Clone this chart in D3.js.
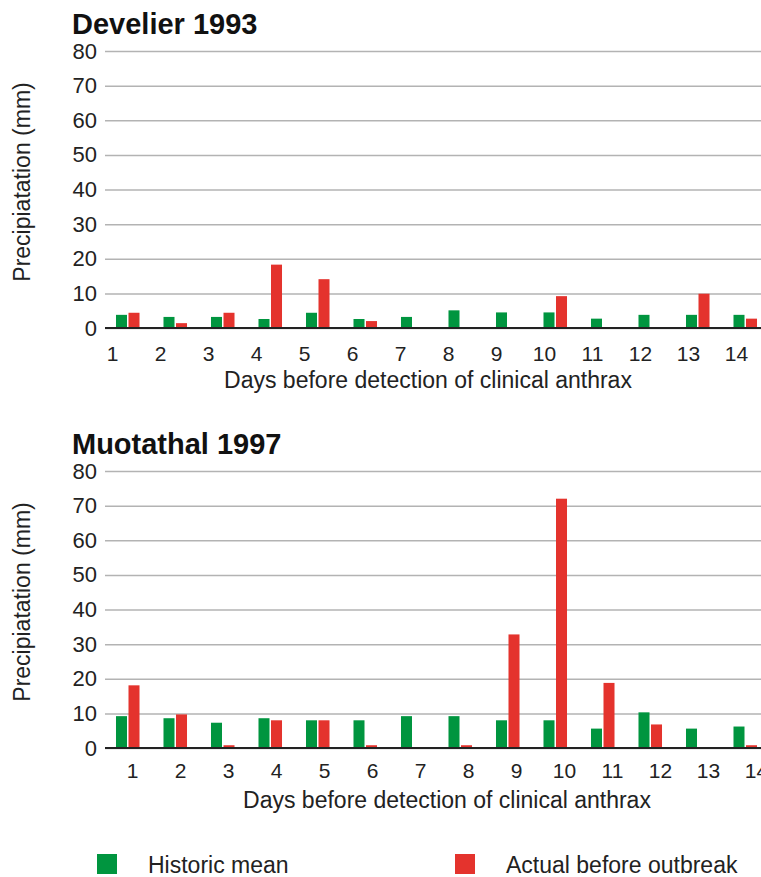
<!DOCTYPE html>
<html>
<head>
<meta charset="utf-8">
<script src="https://cdn.jsdelivr.net/npm/d3@7"></script>
<style>
  body { margin: 0; background: #fff; }
  svg { display: block; font-family: "Liberation Sans", Arial, sans-serif; }
</style>
</head>
<body>
<svg id="chart" width="761" height="877"></svg>
<script>
var days = [1, 2, 3, 4, 5, 6, 7, 8, 9, 10, 11, 12, 13, 14];
var seriesNames = ["Historic mean", "Actual before outbreak"];
var seriesColors = ["#00953f", "#e4332d"];
var yTicks = [0, 10, 20, 30, 40, 50, 60, 70, 80];

// Develier 1993
var develierHistoric = [3.8, 3.2, 3.2, 2.6, 4.4, 2.6, 3.2, 5.1, 4.5, 4.5, 2.7, 3.8, 3.8, 3.8];
var develierActual   = [4.4, 1.4, 4.4, 18.3, 14.1, 2.0, 0, 0, 0, 9.2, 0, 0, 9.9, 2.7];

// Muotathal 1997
var muotathalHistoric = [9.2, 8.6, 7.3, 8.6, 8.0, 8.0, 9.2, 9.2, 8.0, 8.0, 5.6, 10.3, 5.6, 6.2];
var muotathalActual   = [18.1, 9.7, 0.8, 8.0, 8.0, 0.8, 0, 0.8, 32.8, 72, 18.8, 6.8, 0, 0.8];

var svg = d3.select("#chart");
var plotLeft = 105, plotRight = 761;
var yTop = 51, yBottom = 328;

var panels = [
    { title: "Develier 1993", historic: develierHistoric, actual: develierActual,
      offset: 0, labelRange: [112, 736], labelPad: 18, xTitleX: 428, xTitleY: 388 },
    { title: "Muotathal 1997", historic: muotathalHistoric, actual: muotathalActual,
      offset: 420, labelRange: [132, 756], labelPad: 15, xTitleX: 447, xTitleY: 388 }
];

function drawPanel(p) {
    var g = svg.append("g").attr("transform", "translate(0," + p.offset + ")");

    var y = d3.scaleLinear().domain([0, 80]).range([yBottom, yTop]);
    var x0 = d3.scaleBand().domain(days).range([104, 769]).paddingInner(0.505).paddingOuter(0.2525);
    var x1 = d3.scaleBand().domain(seriesNames).range([0, x0.bandwidth()]).paddingInner(0.12);
    var xLabels = d3.scalePoint().domain(days).range(p.labelRange);

    g.append("text")
        .attr("x", 72)
        .attr("y", 34)
        .style("font-size", "29px")
        .style("font-weight", "bold")
        .style("fill", "#111")
        .text(p.title);

    var yAxis = g.append("g")
        .attr("class", "y axis")
        .attr("transform", "translate(" + plotLeft + ",0)")
        .call(d3.axisLeft(y).tickValues(yTicks).tickSizeInner(-(plotRight - plotLeft)).tickSizeOuter(0).tickPadding(8));
    yAxis.select(".domain").remove();
    yAxis.selectAll(".tick line").attr("stroke", "#b3b3b3").attr("stroke-width", 1.5);
    yAxis.selectAll(".tick text")
        .style("font-size", "22px")
        .style("fill", "#222")
        .attr("font-family", null);

    var rows = days.map(function(d, i) {
        return { day: d, values: [p.historic[i], p.actual[i]] };
    });

    g.selectAll("g.day")
        .data(rows)
        .enter().append("g")
        .attr("class", "day")
        .attr("transform", function(d) { return "translate(" + x0(d.day) + ",0)"; })
        .selectAll("rect")
        .data(function(d) { return d.values.map(function(v, k) { return { key: seriesNames[k], value: v, k: k }; }); })
        .enter().append("rect")
        .filter(function(d) { return d.value > 0; })
        .attr("x", function(d) { return x1(d.key); })
        .attr("width", x1.bandwidth())
        .attr("y", function(d) { return y(d.value); })
        .attr("height", function(d) { return yBottom - y(d.value); })
        .style("fill", function(d) { return seriesColors[d.k]; });

    // baseline
    g.append("line")
        .attr("x1", plotLeft).attr("x2", plotRight)
        .attr("y1", y(0)).attr("y2", y(0))
        .attr("stroke", "#222").attr("stroke-width", 2);

    var xAxis = g.append("g")
        .attr("class", "x axis")
        .attr("transform", "translate(0," + yBottom + ")")
        .call(d3.axisBottom(xLabels).tickSize(0).tickPadding(p.labelPad));
    xAxis.select(".domain").remove();
    xAxis.selectAll(".tick text")
        .style("font-size", "21px")
        .style("fill", "#222")
        .attr("font-family", null);

    g.append("text")
        .attr("x", p.xTitleX)
        .attr("y", p.xTitleY)
        .attr("text-anchor", "middle")
        .style("font-size", "23px")
        .style("fill", "#222")
        .text("Days before detection of clinical anthrax");

    g.append("text")
        .attr("transform", "translate(30,182) rotate(-90)")
        .attr("text-anchor", "middle")
        .style("font-size", "23px")
        .style("fill", "#222")
        .text("Precipiatation (mm)");
}

panels.forEach(drawPanel);

var legend = svg.append("g").attr("class", "legend");
var legendX = d3.scaleOrdinal().domain(seriesNames).range([97, 455]);

var items = legend.selectAll("g.legendItem")
    .data(seriesNames)
    .enter().append("g")
    .attr("class", "legendItem")
    .attr("transform", function(d) { return "translate(" + legendX(d) + ",854)"; });

items.append("rect")
    .attr("width", 20)
    .attr("height", 20)
    .style("fill", function(d, i) { return seriesColors[i]; });

items.append("text")
    .attr("x", 51)
    .attr("y", 19)
    .style("font-size", "23px")
    .style("fill", "#222")
    .text(function(d) { return d; });
</script>
</body>
</html>
